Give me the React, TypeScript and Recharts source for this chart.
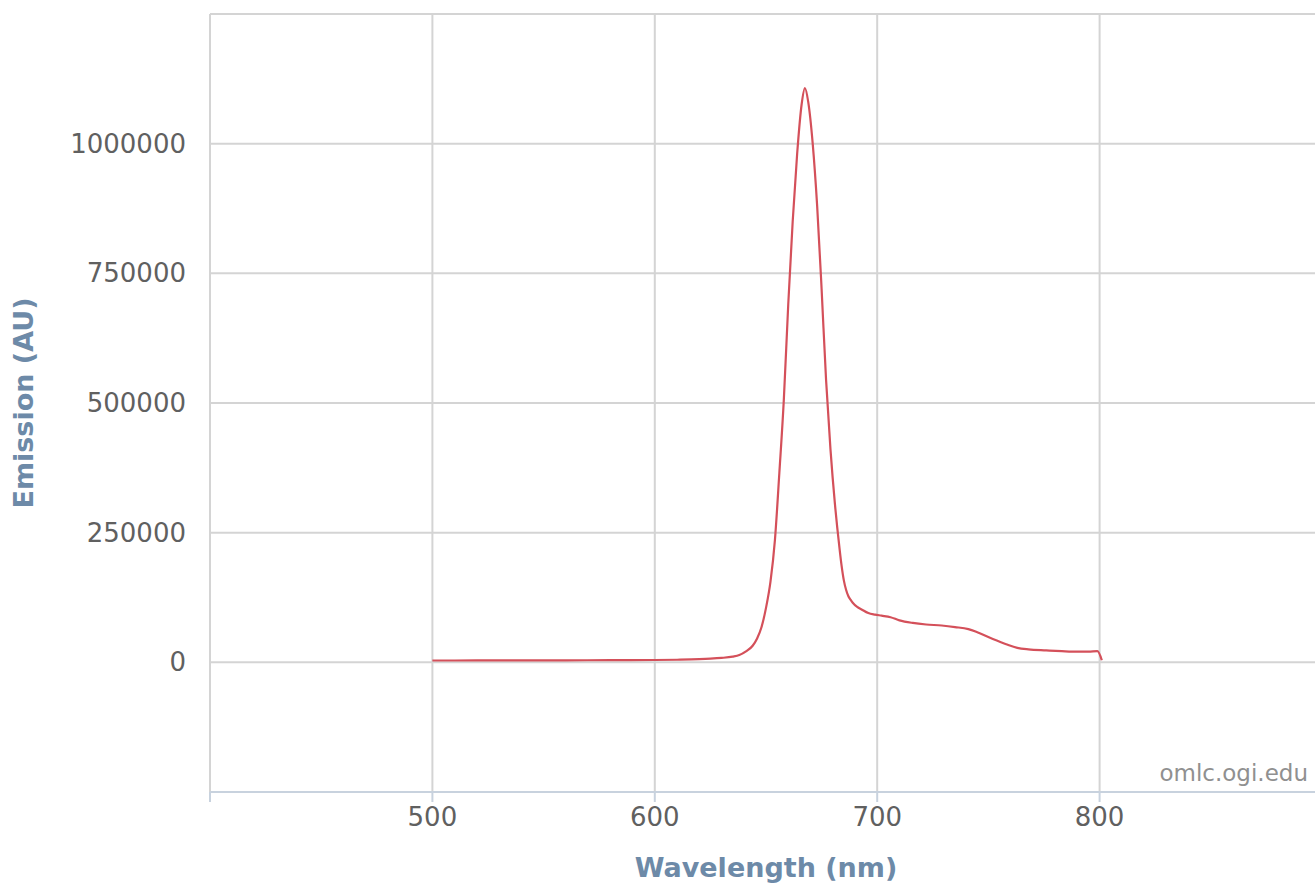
import { LineChart, Line, XAxis, YAxis, CartesianGrid } from "recharts";

// emission spectrum
const wavelengths = [
    500, 520, 540, 560, 580, 600, 610, 620, 625, 630, 635, 638, 641, 644, 646,
    648, 650, 652, 654, 656, 658, 660, 662, 664, 666, 667.5, 669, 671, 673, 675,
    677, 679, 681, 683, 684, 685, 686, 687, 688, 689, 691, 693, 696, 699, 702,
    706, 710, 716, 722, 729, 735, 741, 745, 752, 758, 763, 768, 776, 783, 790,
    795, 799, 801,
];
const emission = [
    3500, 3600, 3700, 3900, 4100, 4500, 5000, 6000, 7000, 8500, 11000, 14000,
    21000, 32000, 46000, 68000, 105000, 155000, 235000, 365000, 505000, 690000,
    850000, 980000, 1075000, 1107000, 1080000, 1000000, 880000, 720000, 545000,
    410000, 305000, 222000, 186000, 158000, 140000, 128000, 121000, 115000,
    107000, 102000, 95000, 92000, 90000, 87000, 81000, 76000, 73000, 71000,
    68000, 64000, 58000, 45000, 35000, 28000, 25000, 23000, 21500, 20500, 20500,
    21500, 4000,
];
const xTicks = [400, 500, 600, 700, 800, 900];
const yTicks = [-250000, 0, 250000, 500000, 750000, 1000000, 1250000];
const hiddenX = [400, 900];
const hiddenY = [-250000, 1250000];

const data = wavelengths.map((nm, i) => ({ nm, value: emission[i] }));

const FONT = "'DejaVu Sans', Verdana, sans-serif";
const TITLE_COLOR = "#6d8aa8";
const LABEL_COLOR = "#606060";

const XTick = (props: any) => {
    const { x, y, payload } = props;
    if (hiddenX.includes(payload.value)) return null;
    return (
        <text x={x} y={y} dy={22} textAnchor="middle" fill={LABEL_COLOR} fontSize={26} fontFamily={FONT}>
            {payload.value}
        </text>
    );
};

const YTick = (props: any) => {
    const { x, y, payload } = props;
    if (hiddenY.includes(payload.value)) return null;
    return (
        <text x={x} y={y} dy={9} textAnchor="end" fill={LABEL_COLOR} fontSize={26} fontFamily={FONT}>
            {payload.value}
        </text>
    );
};

export default function App() {
    return (
        <div
            style={{
                position: "absolute",
                left: 0,
                top: 0,
                width: 1315,
                height: 886,
                overflow: "hidden",
                background: "#fff",
            }}
        >
            <LineChart
                width={1330}
                height={886}
                data={data}
                margin={{ top: 14, right: 8, bottom: 0, left: 0 }}
            >
                <CartesianGrid stroke="#d4d4d4" strokeWidth={2} />
                <XAxis
                    type="number"
                    dataKey="nm"
                    domain={[400, 900]}
                    ticks={xTicks}
                    interval={0}
                    height={94}
                    axisLine={{ stroke: "#c8d2de", strokeWidth: 2 }}
                    tickLine={{ stroke: "#c8d2de", strokeWidth: 2 }}
                    tickSize={10}
                    tickMargin={2}
                    tick={<XTick />}
                    label={{
                        value: "Wavelength (nm)",
                        position: "insideBottom",
                        offset: 9,
                        style: {
                            fill: TITLE_COLOR,
                            fontSize: 27,
                            fontWeight: "bold",
                            fontFamily: FONT,
                        },
                    }}
                />
                <YAxis
                    type="number"
                    domain={[-250000, 1250000]}
                    ticks={yTicks}
                    interval={0}
                    width={210}
                    axisLine={false}
                    tickLine={false}
                    tickSize={0}
                    tickMargin={24}
                    tick={<YTick />}
                    label={{
                        value: "Emission (AU)",
                        angle: -90,
                        position: "insideLeft",
                        offset: 23,
                        style: {
                            fill: TITLE_COLOR,
                            fontSize: 27,
                            fontWeight: "bold",
                            fontFamily: FONT,
                            textAnchor: "middle",
                        },
                    }}
                />
                <Line
                    type="monotone"
                    dataKey="value"
                    stroke="#d4505a"
                    strokeWidth={2.2}
                    dot={false}
                    isAnimationActive={false}
                />
            </LineChart>
            <span
                style={{
                    position: "absolute",
                    right: 7,
                    top: 760,
                    fontFamily: FONT,
                    fontSize: 23,
                    color: "#909090",
                }}
            >
                omlc.ogi.edu
            </span>
        </div>
    );
}
